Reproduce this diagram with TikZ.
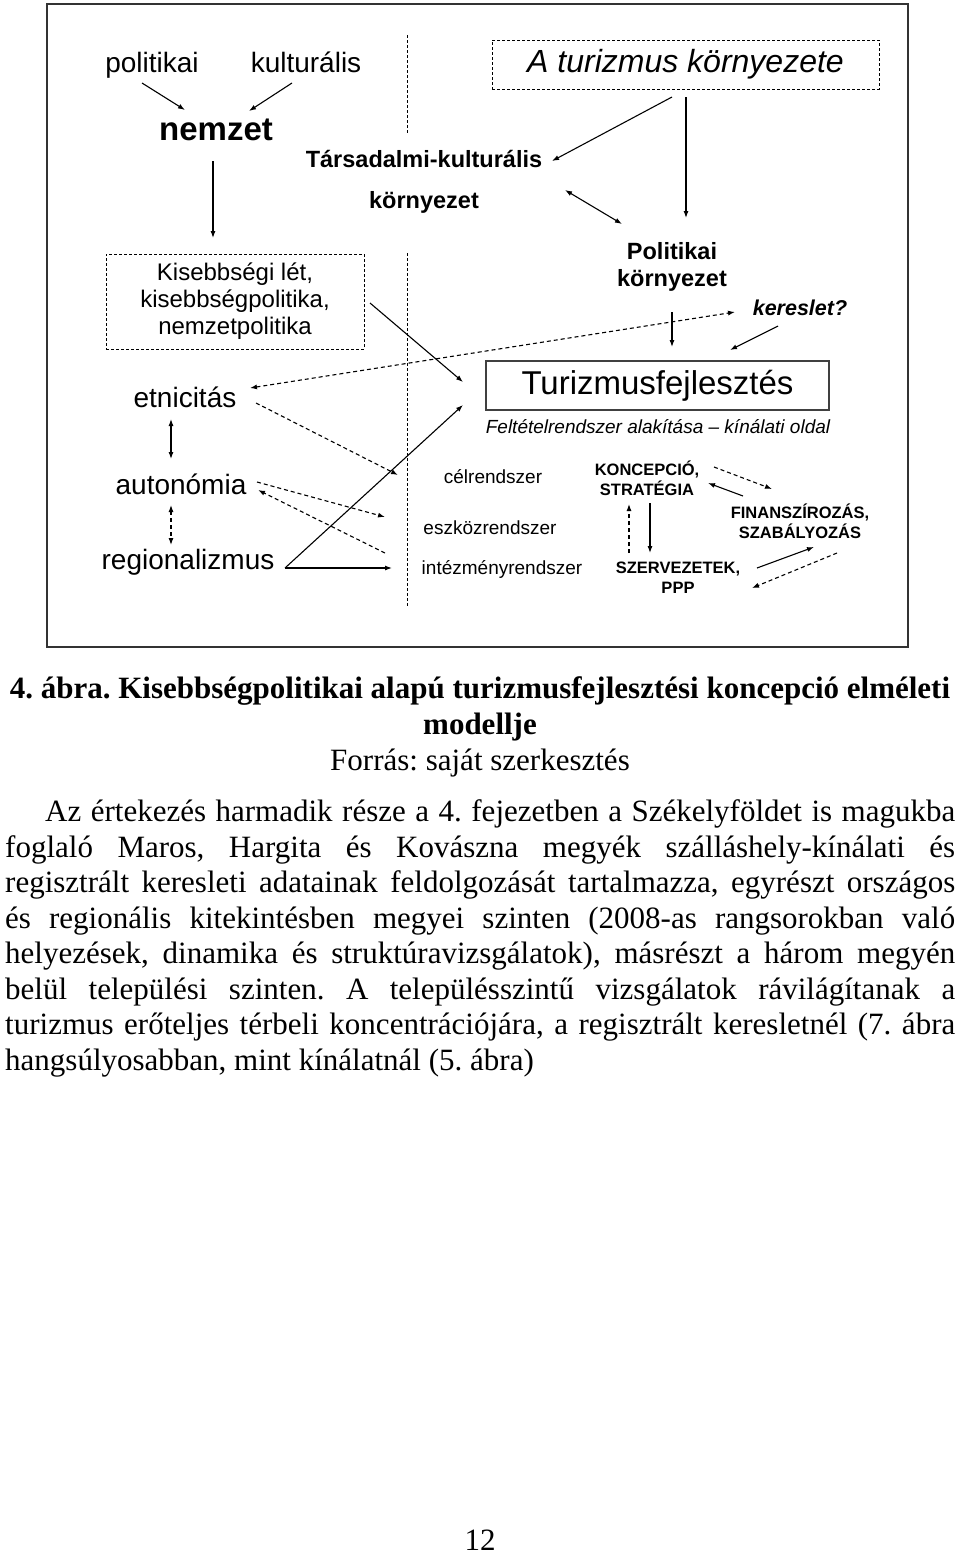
\documentclass[tikz,border=0pt]{standalone}
\usepackage{fontspec}
\setmainfont{Liberation Serif}
\newfontfamily\arialf{Liberation Sans}
\usetikzlibrary{arrows.meta}
\newcommand\fsz[2]{\fontsize{#1}{#2}\selectfont}
\frenchspacing
\begin{document}
\begin{tikzpicture}[x=1pt,y=-1pt,
  >={Latex[length=7pt,width=5pt]},
  conn/.style={line width=1.1pt,->},
  dconn/.style={line width=1.1pt,->,dash pattern=on 4pt off 3pt},
  dbox/.style={draw,line width=0.9pt,dash pattern=on 3pt off 2pt},
  sbox/.style={draw=black!75,line width=1.2pt},
  lbl/.style={inner sep=0pt,align=center},
  body/.style={inner sep=0pt,anchor=base west,font=\fsz{31}{35.5}},
]
\useasboundingbox (0,0) rectangle (960,1556);
\fill[white] (0,0) rectangle (960,1556);
% frame
\draw[black!80,line width=2pt] (47,4) rectangle (908,647);

% nodes
\node[lbl,anchor=base,font=\arialf\fsz{28}{32}] (pol) at (152,72) {politikai};
\node[lbl,anchor=base,font=\arialf\fsz{28}{32}] (kult) at (306,72) {kulturális};
\node[lbl,font=\arialf\bfseries\fsz{33}{38}] (nemzet) at (216,130) {nemzet};
\node[lbl,font=\arialf\bfseries\fsz{23.5}{27}] (tars) at (424,159) {Társadalmi-kulturális};
\node[lbl,font=\arialf\bfseries\fsz{23.5}{27}] (korny) at (424,202) {környezet};
\node[dbox,lbl,minimum width=387pt,minimum height=49pt,font=\arialf\itshape\fsz{32}{36}] (atk) at (685.5,64.5) {A turizmus környezete};
\node[lbl,font=\arialf\bfseries\fsz{23.5}{27}] (polk) at (672,267) {Politikai\\környezet};
\node[lbl,font=\arialf\bfseries\itshape\fsz{21.5}{25}] (keres) at (800,308) {kereslet?};
\node[dbox,lbl,minimum width=258pt,minimum height=95pt,font=\arialf\fsz{24}{27}] (kis) at (235,301.5) {Kisebbségi lét,\\kisebbségpolitika,\\nemzetpolitika};
\node[sbox,lbl,minimum width=343pt,minimum height=49pt,font=\arialf\fsz{33}{38}] (tf) at (657.5,385.5) {\raisebox{-2pt}{Turizmusfejlesztés}};
\node[lbl,font=\arialf\itshape\fsz{19}{22}] (felt) at (658,427) {Feltételrendszer alakítása – kínálati oldal};
\node[lbl,font=\arialf\fsz{28}{32}] (etn) at (185,397) {etnicitás};
\node[lbl,font=\arialf\fsz{28}{32}] (aut) at (181,484) {autonómia};
\node[lbl,font=\arialf\fsz{28}{32}] (reg) at (188,562) {regionalizmus};
\node[lbl,font=\arialf\fsz{19}{22}] (cel) at (493,477) {célrendszer};
\node[lbl,font=\arialf\fsz{19}{22}] (esz) at (490,528) {eszközrendszer};
\node[lbl,font=\arialf\fsz{19}{22}] (int) at (502,569) {intézményrendszer};
\node[lbl,font=\arialf\bfseries\fsz{16.5}{20}] (konc) at (647,478) {KONCEPCIÓ,\\STRATÉGIA};
\node[lbl,font=\arialf\bfseries\fsz{16.5}{20}] (fin) at (800,521) {FINANSZÍROZÁS,\\SZABÁLYOZÁS};
\node[lbl,font=\arialf\bfseries\fsz{16.5}{20}] (szerv) at (678,577.5) {SZERVEZETEK,\\PPP};

% vertical dashed divider
\coordinate (v1) at (407,35); \coordinate (v2) at (407,133);
\coordinate (v3) at (407,253); \coordinate (v4) at (407,607);
\draw[line width=0.9pt,dash pattern=on 3pt off 2pt] (v1) -- (v2);
\draw[line width=0.9pt,dash pattern=on 3pt off 2pt] (v3) -- (v4);

% connector end points
\coordinate (pol-o) at (142,83);  \coordinate (nem-i1) at (185,110);
\coordinate (kult-o) at (292,83); \coordinate (nem-i2) at (249,111);
\coordinate (nem-o) at (213,161); \coordinate (kis-i) at (213,238);
\coordinate (atk-o1) at (672,97); \coordinate (tars-i) at (552,161);
\coordinate (atk-o2) at (686,97); \coordinate (polk-i) at (686,218);
\coordinate (korny-e) at (565,190); \coordinate (polk-e) at (622,224);
\coordinate (polk-o) at (672,312); \coordinate (tf-i1) at (672,347);
\coordinate (etn-e1) at (250,388); \coordinate (keres-e) at (735,312);
\coordinate (keres-o) at (778,326); \coordinate (tf-i2) at (730,350);
\coordinate (kis-o) at (370,303); \coordinate (tf-i3) at (463,382);
\coordinate (reg-o) at (285,568); \coordinate (tf-i4) at (463,405);
\coordinate (int-i) at (392,568);
\coordinate (etn-s) at (171,419); \coordinate (aut-n) at (171,459);
\coordinate (aut-s) at (171,505); \coordinate (reg-n) at (171,545);
\coordinate (etn-o) at (256,403); \coordinate (cel-i) at (398,475);
\coordinate (aut-o) at (257,482); \coordinate (esz-i) at (385,517);
\coordinate (int-o) at (385,553); \coordinate (aut-i) at (258,490);
\coordinate (konc-o1) at (714,467); \coordinate (fin-i1) at (772,489);
\coordinate (fin-o1) at (743,496); \coordinate (konc-i1) at (708,483);
\coordinate (konc-o2) at (650,503); \coordinate (szerv-i1) at (650,553);
\coordinate (szerv-o1) at (629,553); \coordinate (konc-i2) at (629,504);
\coordinate (szerv-o2) at (757,568); \coordinate (fin-i2) at (814,547);
\coordinate (fin-o2) at (837,553); \coordinate (szerv-i2) at (752,588);

% connectors
\draw[conn] (pol-o) -- (nem-i1);
\draw[conn] (kult-o) -- (nem-i2);
\draw[conn] (nem-o) -- (kis-i);
\draw[conn] (atk-o1) -- (tars-i);
\draw[conn] (atk-o2) -- (polk-i);
\draw[conn,<->] (korny-e) -- (polk-e);
\draw[conn] (polk-o) -- (tf-i1);
\draw[dconn,<->] (etn-e1) -- (keres-e);
\draw[conn] (keres-o) -- (tf-i2);
\draw[conn] (kis-o) -- (tf-i3);
\draw[conn] (reg-o) -- (tf-i4);
\draw[conn] (reg-o) -- (int-i);
\draw[conn,<->] (etn-s) -- (aut-n);
\draw[dconn,<->] (aut-s) -- (reg-n);
\draw[dconn] (etn-o) -- (cel-i);
\draw[dconn] (aut-o) -- (esz-i);
\draw[dconn] (int-o) -- (aut-i);
\draw[dconn] (konc-o1) -- (fin-i1);
\draw[conn] (fin-o1) -- (konc-i1);
\draw[conn] (konc-o2) -- (szerv-i1);
\draw[dconn] (szerv-o1) -- (konc-i2);
\draw[conn] (szerv-o2) -- (fin-i2);
\draw[dconn] (fin-o2) -- (szerv-i2);

% caption
\node[inner sep=0pt,anchor=base,font=\bfseries\fsz{31}{35.5}] (cap1) at (480,698) {4. ábra. Kisebbségpolitikai alapú turizmusfejlesztési koncepció elméleti};
\node[inner sep=0pt,anchor=base,font=\bfseries\fsz{31}{35.5}] (cap2) at (480,734) {modellje};
\node[inner sep=0pt,anchor=base,font=\fsz{31}{35.5}] (cap3) at (480,770) {Forrás: saját szerkesztés};

% body text
\node[body] (b1) at (45,821) {\makebox[910pt][s]{Az értekezés harmadik része a 4. fejezetben a Székelyföldet is magukba}};
\node[body] (b2) at (5,857) {\makebox[950pt][s]{foglaló Maros, Hargita és Kovászna megyék szálláshely-kínálati és}};
\node[body] (b3) at (5,892) {\makebox[950pt][s]{regisztrált keresleti adatainak feldolgozását tartalmazza, egyrészt országos}};
\node[body] (b4) at (5,928) {\makebox[950pt][s]{és regionális kitekintésben megyei szinten (2008-as rangsorokban való}};
\node[body] (b5) at (5,963) {\makebox[950pt][s]{helyezések, dinamika és struktúravizsgálatok), másrészt a három megyén}};
\node[body] (b6) at (5,999) {\makebox[950pt][s]{belül települési szinten. A településszintű vizsgálatok rávilágítanak a}};
\node[body] (b7) at (5,1034) {\makebox[950pt][s]{turizmus erőteljes térbeli koncentrációjára, a regisztrált keresletnél (7. ábra}};
\node[body] (b8) at (5,1070) {hangsúlyosabban, mint kínálatnál (5. ábra)};

% page number
\node[inner sep=0pt,anchor=base,font=\fsz{31}{35.5}] (pg) at (480,1550) {12};
\end{tikzpicture}
\end{document}
